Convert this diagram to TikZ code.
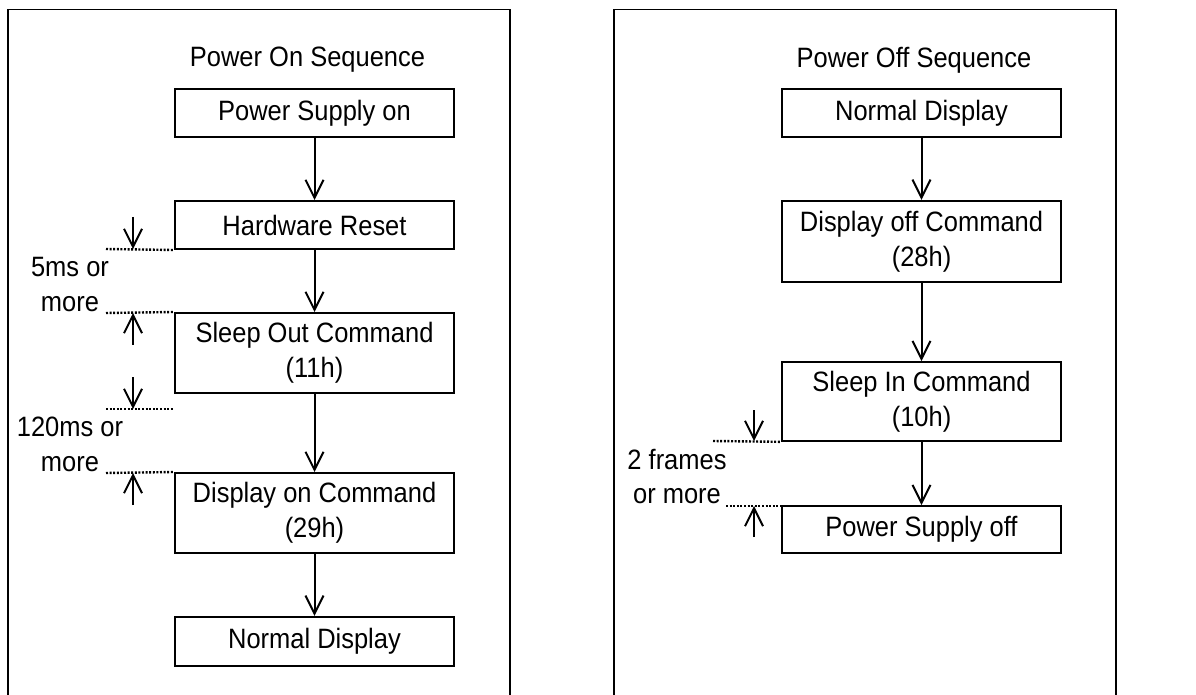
\documentclass[tikz,border=0pt]{standalone}
\usepackage{fontspec}
\setmainfont[FakeStretch=0.91]{Liberation Sans}
\usetikzlibrary{arrows.meta}

\begin{document}
\begin{tikzpicture}[
    x=0.75pt, y=-0.75pt,
    box/.style={rectangle, draw, line width=1.5pt, minimum width=209pt, inner sep=0pt, align=center,
        font=\fontsize{21}{26}\selectfont},
    title/.style={font=\fontsize{21}{26}\selectfont, inner sep=0pt},
    note/.style={align=center, inner sep=0pt, font=\fontsize{21}{26}\selectfont},
    arrow/.style={-{Straight Barb[length=13.5pt, width=13.5pt]}, line width=1.5pt},
    dotline/.style={line width=1.8pt, dash pattern=on 1.5pt off 1.2pt},
    panel/.style={line width=1.4pt}
]
    \useasboundingbox (0,0) rectangle (1196,695);
    \draw[panel] (8,700) -- (8,9.5) -- (510,9.5) -- (510,700);
    \draw[panel] (614,700) -- (614,9.5) -- (1116,9.5) -- (1116,700);

    % power on
    \node[title] (ontitle) at (307.5,60) {Power On Sequence};
    \node[box, minimum height=36pt] (supplyon) at (314.5,113) {Power Supply on};
    \node[box, minimum height=36pt] (hwreset) at (314.5,225) {Hardware Reset};
    \node[box, minimum height=60pt] (sleepout) at (314.5,353) {Sleep Out Command\\(11h)};
    \node[box, minimum height=60pt] (dispon) at (314.5,513) {Display on Command\\(29h)};
    \node[box, minimum height=37pt] (normalon) at (314.5,641.5) {Normal Display};
    \draw[arrow] (supplyon) -- (hwreset);
    \draw[arrow] (hwreset) -- (sleepout);
    \draw[arrow] (sleepout) -- (dispon);
    \draw[arrow] (dispon) -- (normalon);

    \coordinate (t1a) at (106,249);
    \coordinate (t1b) at (106,313);
    \coordinate (t2a) at (106,409);
    \coordinate (t2b) at (106,473);
    \coordinate (t2e) at (173,409);
    \draw[dotline] (t1a) -- (hwreset.south west);
    \draw[dotline] (t1b) -- (sleepout.north west);
    \draw[dotline] (t2a) -- (t2e);
    \draw[dotline] (t2b) -- (dispon.north west);
    \coordinate (a1) at (133,217);
    \coordinate (a1e) at (133,249);
    \coordinate (a2) at (133,345);
    \coordinate (a2e) at (133,313);
    \coordinate (a3) at (133,377);
    \coordinate (a3e) at (133,409);
    \coordinate (a4) at (133,505);
    \coordinate (a4e) at (133,473);
    \draw[arrow] (a1) -- (a1e);
    \draw[arrow] (a2) -- (a2e);
    \draw[arrow] (a3) -- (a3e);
    \draw[arrow] (a4) -- (a4e);
    \node[note] (wait1) at (70,284.5) {5ms or\\more};
    \node[note] (wait2) at (70,444.5) {120ms or\\more};

    % power off
    \node[title] (offtitle) at (914,60) {Power Off Sequence};
    \node[box, minimum height=36pt] (normaloff) at (921.5,113) {Normal Display};
    \node[box, minimum height=61pt] (dispoff) at (921.5,241.5) {Display off Command\\(28h)};
    \node[box, minimum height=59pt] (sleepin) at (921.5,401.5) {Sleep In Command\\(10h)};
    \node[box, minimum height=35pt] (supplyoff) at (921.5,529.5) {Power Supply off};
    \draw[arrow] (normaloff) -- (dispoff);
    \draw[arrow] (dispoff) -- (sleepin);
    \draw[arrow] (sleepin) -- (supplyoff);

    \coordinate (t3a) at (713,441);
    \coordinate (t3b) at (726,506);
    \coordinate (t3e) at (793,506);
    \draw[dotline] (t3a) -- (sleepin.south west);
    \draw[dotline] (t3b) -- (t3e);
    \coordinate (a5) at (754,410);
    \coordinate (a5e) at (754,441);
    \coordinate (a6) at (754,537);
    \coordinate (a6e) at (754,506);
    \draw[arrow] (a5) -- (a5e);
    \draw[arrow] (a6) -- (a6e);
    \node[note] (wait3) at (677,476.5) {2 frames\\or more};
\end{tikzpicture}
\end{document}
